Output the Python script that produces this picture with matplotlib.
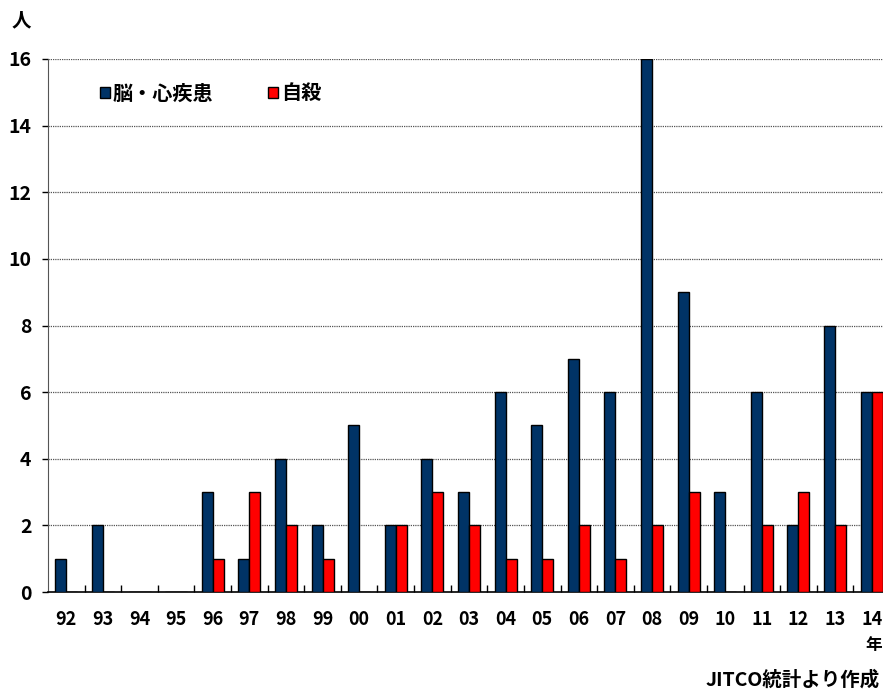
import matplotlib
matplotlib.use("Agg")
import matplotlib.pyplot as plt
import numpy as np

plt.rcParams['font.family'] = ['Noto Sans CJK JP', 'DejaVu Sans']
plt.rcParams['font.weight'] = 'bold'

years = ["92", "93", "94", "95", "96", "97", "98", "99", "00", "01", "02", "03",
         "04", "05", "06", "07", "08", "09", "10", "11", "12", "13", "14"]
heart = [1, 2, 0, 0, 3, 1, 4, 2, 5, 2, 4, 3, 6, 5, 7, 6, 16, 9, 3, 6, 2, 8, 6]
suicide = [0, 0, 0, 0, 1, 3, 2, 1, 0, 2, 3, 2, 1, 1, 2, 1, 2, 3, 0, 2, 3, 2, 6]
yticks = [0, 2, 4, 6, 8, 10, 12, 14, 16]

W, H = 883, 691
fig = plt.figure(figsize=(W / 100, H / 100), dpi=100)
# the plot area runs slightly past the right edge of the figure
ax = fig.add_axes([48 / W, 1 - 592 / H, (890 - 48) / W, (592 - 59) / H])

x = np.arange(len(years))
bw = 0.30
ax.bar(x - bw / 2, heart, bw, color="#003366", edgecolor="black", linewidth=1, zorder=3,
       label="脳・心疾患")
ax.bar(x + bw / 2, suicide, bw, color="#ff0000", edgecolor="black", linewidth=1, zorder=3,
       label="自殺")

ax.set_xlim(-0.5, len(years) - 0.5)
ax.set_ylim(0, 16)
ax.set_yticks(yticks)
ax.set_yticklabels([str(v) for v in yticks], fontsize=14, fontweight='bold')
for v in yticks[1:]:
    ax.axhline(v, color="#555555", linestyle=(0, (1, 0.8)), linewidth=0.9, zorder=1)

ax.set_xticks(x)
ax.set_xticklabels(years, fontsize=13, fontweight='bold')
ax.tick_params(axis='x', length=0, pad=13)
ax.set_xticks(np.arange(len(years)) + 0.5, minor=True)
ax.tick_params(axis='x', which='minor', direction='in', length=5, width=1)
ax.tick_params(axis='y', length=4, width=1, pad=8)

ax.spines['top'].set_visible(False)
ax.spines['right'].set_visible(False)
ax.spines['left'].set_color("#555555")
ax.spines['bottom'].set_linewidth(1.2)

leg = ax.legend(loc='upper left', bbox_to_anchor=(0.04, 0.99), ncol=2, frameon=False,
                prop={'weight': 'bold', 'size': 14.5},
                handlelength=0.5, handleheight=0.5, handletextpad=0.12,
                columnspacing=2.75)

fig.text(12 / W, 1 - 21 / H, "人", fontsize=14, fontweight='bold',
         ha='left', va='center')
fig.text(882 / W, 1 - 645 / H, "年", fontsize=12, fontweight='bold',
         ha='right', va='center')
fig.text(880 / W, 1 - 680 / H, "JITCO統計より作成", fontsize=14, fontweight='bold',
         ha='right', va='center')

fig.savefig("out.png", dpi=100)
